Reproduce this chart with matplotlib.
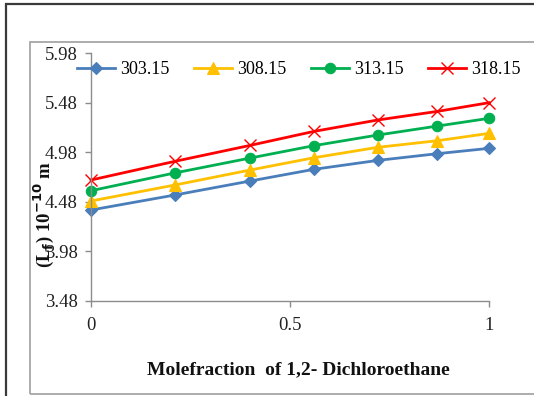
import matplotlib
matplotlib.use("Agg")
import matplotlib.pyplot as plt
from matplotlib.patches import Rectangle

plt.rcParams['font.family'] = ['Liberation Serif', 'DejaVu Serif']

x = [0.0, 0.21, 0.40, 0.56, 0.72, 0.87, 1.0]
series_labels = ["303.15", "308.15", "313.15", "318.15"]
y303 = [4.396, 4.547, 4.689, 4.807, 4.897, 4.965, 5.019]
y308 = [4.487, 4.648, 4.800, 4.924, 5.029, 5.096, 5.170]
y313 = [4.591, 4.770, 4.921, 5.046, 5.153, 5.244, 5.322]
y318 = [4.699, 4.887, 5.049, 5.190, 5.305, 5.392, 5.480]
yticks = [3.48, 3.98, 4.48, 4.98, 5.48, 5.98]
xticks = [0, 0.5, 1]
xtick_labels = ["0", "0.5", "1"]

W, H = 534, 396
fig = plt.figure(figsize=(W / 100, H / 100), dpi=100)

# outer frames (extend past right edge)
fig.patches.append(Rectangle((6 / W, -0.1), 1.2, 1 - 4 / H + 0.1, transform=fig.transFigure,
                             fill=False, edgecolor='#3a3a3a', linewidth=1.6, zorder=0))
fig.patches.append(Rectangle((29.5 / W, 1 - 394 / H), 1.2, (394 - 42) / H, transform=fig.transFigure,
                             fill=False, edgecolor='#a6a6a6', linewidth=1.3, zorder=0))

ax = fig.add_axes([91 / W, 1 - 300.7 / H, (489 - 91) / W, (300.7 - 53.2) / H])
ax.set_facecolor('none')

styles = [
    dict(color='#4a7ebb', marker='D', markersize=6, markeredgewidth=0.8),
    dict(color='#ffc000', marker='^', markersize=8, markeredgewidth=0.8),
    dict(color='#00b050', marker='o', markersize=7.5, markeredgewidth=0.8),
    dict(color='#ff0000', marker='x', markersize=8, markeredgewidth=1.0),
]
handles = []
for ys, lab, st in zip([y303, y308, y313, y318], series_labels, styles):
    h, = ax.plot(x, ys, linewidth=2.0, label=lab, clip_on=False, **st)
    handles.append(h)

ax.set_xlim(0, 1)
ax.set_ylim(3.48, 5.98)
ax.set_yticks(yticks)
ax.set_yticklabels([f"{v:.2f}" for v in yticks])
ax.set_xticks(xticks)
ax.set_xticklabels(xtick_labels)
for s in ['top', 'right']:
    ax.spines[s].set_visible(False)
for s in ['left', 'bottom']:
    ax.spines[s].set_color('#8c8c8c')
    ax.spines[s].set_linewidth(1.0)
ax.tick_params(axis='both', direction='out', length=4.5, width=1.0, color='#8c8c8c',
               labelsize=13.5, labelcolor='#222222')
ax.tick_params(axis='y', pad=5)
ax.tick_params(axis='x', pad=7)

fig.legend(handles=handles, labels=series_labels, loc='center', ncol=4,
           bbox_to_anchor=(299 / W, 1 - 70 / H), frameon=False, fontsize=13,
           handlelength=2.1, handletextpad=0.3, columnspacing=1.35, borderaxespad=0)

fig.text(298 / W, 1 - 370 / H, "Molefraction  of 1,2- Dichloroethane", ha='center', va='center',
         fontsize=14, fontweight='bold', color='#111111')
fig.text(44 / W, 1 - 215 / H, r"(L$_\mathbf{f}$) 10$^{\mathbf{-10}}$ m", ha='center', va='center',
         rotation=90, fontsize=13.5, fontweight='bold', color='#111111')

fig.savefig("out.png", dpi=100)
